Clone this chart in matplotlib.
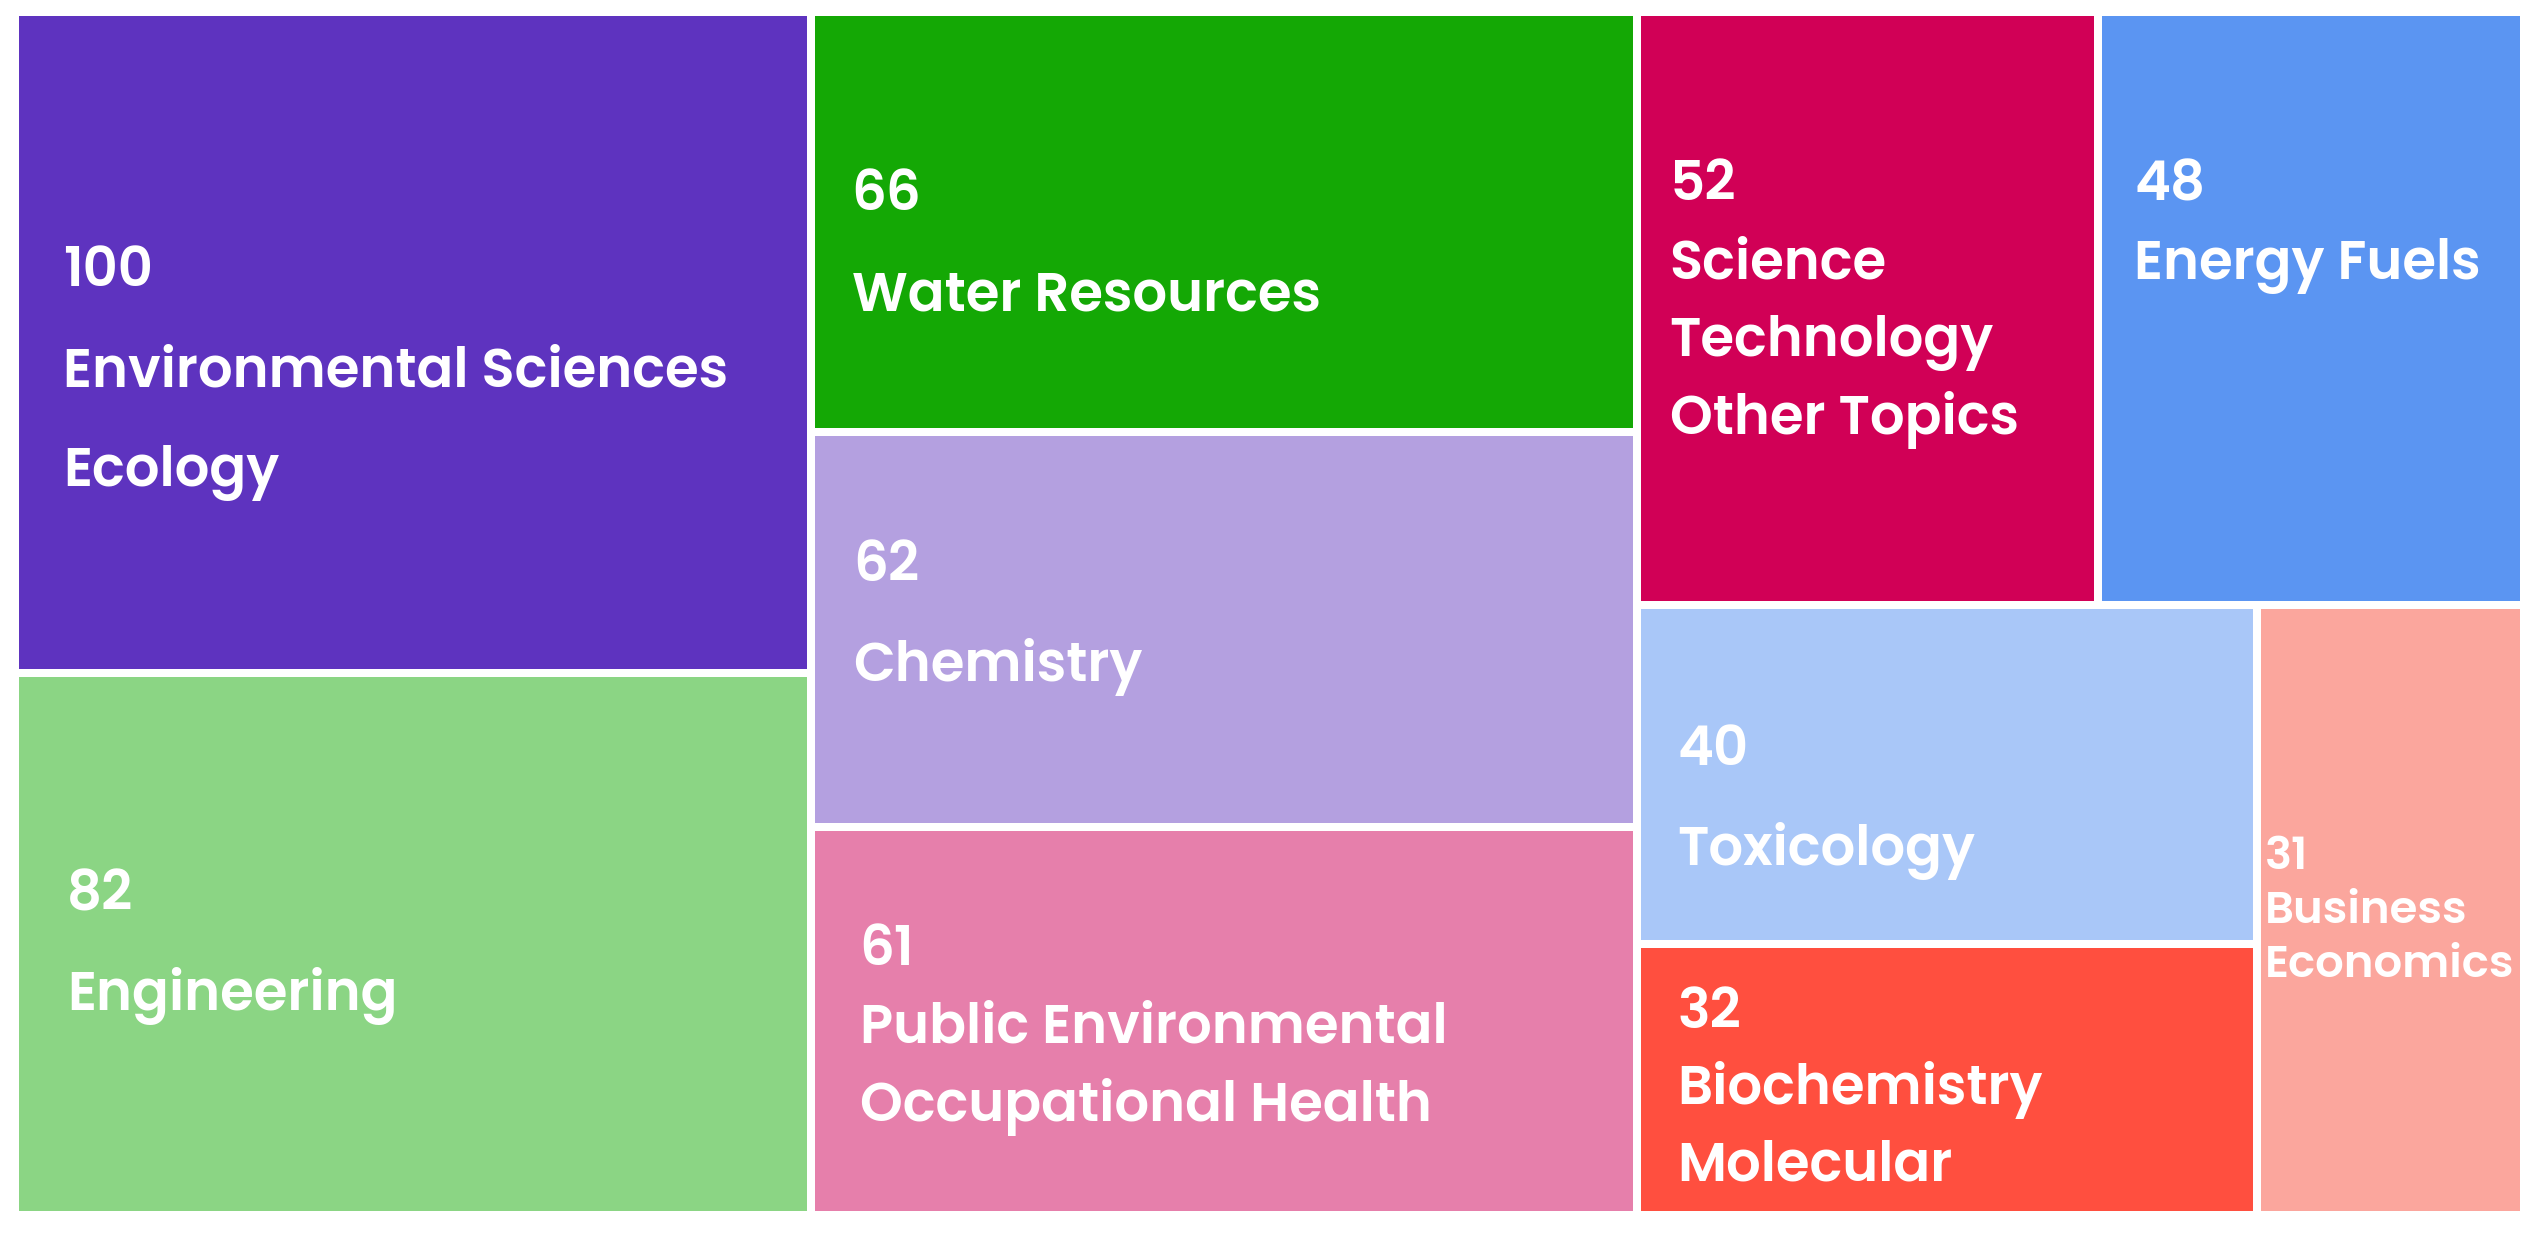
import matplotlib.pyplot as plt
from matplotlib.patches import Rectangle

# ── Data ─────────────────────────────────────────────────────────────────────
values = [100, 82, 66, 62, 61, 52, 48, 40, 32, 31]
names = [
    "Environmental Sciences Ecology",
    "Engineering",
    "Water Resources",
    "Chemistry",
    "Public Environmental Occupational Health",
    "Science Technology Other Topics",
    "Energy Fuels",
    "Toxicology",
    "Biochemistry Molecular",
    "Business Economics",
]
# how each name wraps inside its cell
label_lines = [
    ["Environmental Sciences", "Ecology"],
    ["Engineering"],
    ["Water Resources"],
    ["Chemistry"],
    ["Public Environmental", "Occupational Health"],
    ["Science", "Technology", "Other Topics"],
    ["Energy Fuels"],
    ["Toxicology"],
    ["Biochemistry", "Molecular"],
    ["Business", "Economics"],
]
colors = ["#5E33BF", "#8BD584", "#14A805", "#B4A0E0", "#E67FAB",
          "#D10056", "#5B95F2", "#A9C7F8", "#FF4F3F", "#FBA69D"]

# nesting of the slices: columns -> rows -> columns ...
layout_tree = [[0, 1], [2, 3, 4], [[5, 6], [[7, 8], 9]]]

# ── Label styling per cell (pixels) ─────────────────────────────────────────
font_px  = [54.5, 54.5, 54.5, 54.5, 54.5, 54.5, 54.5, 54.5, 54.5, 45]
pitch_px = [100, 100, 100, 100, 78, 78, 78, 100, 76, 54]
pad_px   = [44, 48, 37, 39, 45, 29, 32, 37, 37, 4]
yfrac    = [0.537, 0.494, 0.545, 0.454, 0.506, 0.482, 0.349, 0.563, 0.52, 0.495]

W, H = 2539, 1235
GAP = 8


def total(node):
    if isinstance(node, int):
        return values[node]
    return sum(total(c) for c in node)


def place(node, x, y, w, h, horizontal, out):
    if isinstance(node, int):
        out[node] = (x, y, w, h)
        return
    t = total(node)
    for c in node:
        f = total(c) / t
        if horizontal:
            place(c, x, y, w * f, h, False, out)
            x += w * f
        else:
            place(c, x, y, w, h * f, True, out)
            y += h * f


rects = {}
place(layout_tree, 19 - GAP / 2, 16 - GAP / 2, 2520 - 19 + GAP, 1211 - 16 + GAP, True, rects)

fig = plt.figure(figsize=(W / 100, H / 100), dpi=100)
ax = fig.add_axes([0, 0, 1, 1])
ax.set_xlim(0, W)
ax.set_ylim(H, 0)
ax.axis("off")

FAMILY = ["Poppins", "Inter", "Open Sans", "DejaVu Sans"]

for i in range(len(values)):
    x, y, w, h = rects[i]
    ax.add_patch(Rectangle((x + GAP / 2, y + GAP / 2), w - GAP, h - GAP,
                           facecolor=colors[i], edgecolor="none"))
    lines = [str(values[i])] + label_lines[i]
    n = len(lines)
    cy = y + GAP / 2 + (h - GAP) * yfrac[i]
    fs = font_px[i] * 0.72
    for k, line in enumerate(lines):
        ly = cy + (k - (n - 1) / 2) * pitch_px[i] + 0.36 * font_px[i]
        ax.text(x + GAP / 2 + pad_px[i], ly, line, color="white", fontsize=fs,
                fontweight="semibold", family=FAMILY, ha="left", va="baseline")

fig.savefig("out.png", dpi=100, facecolor="white")
